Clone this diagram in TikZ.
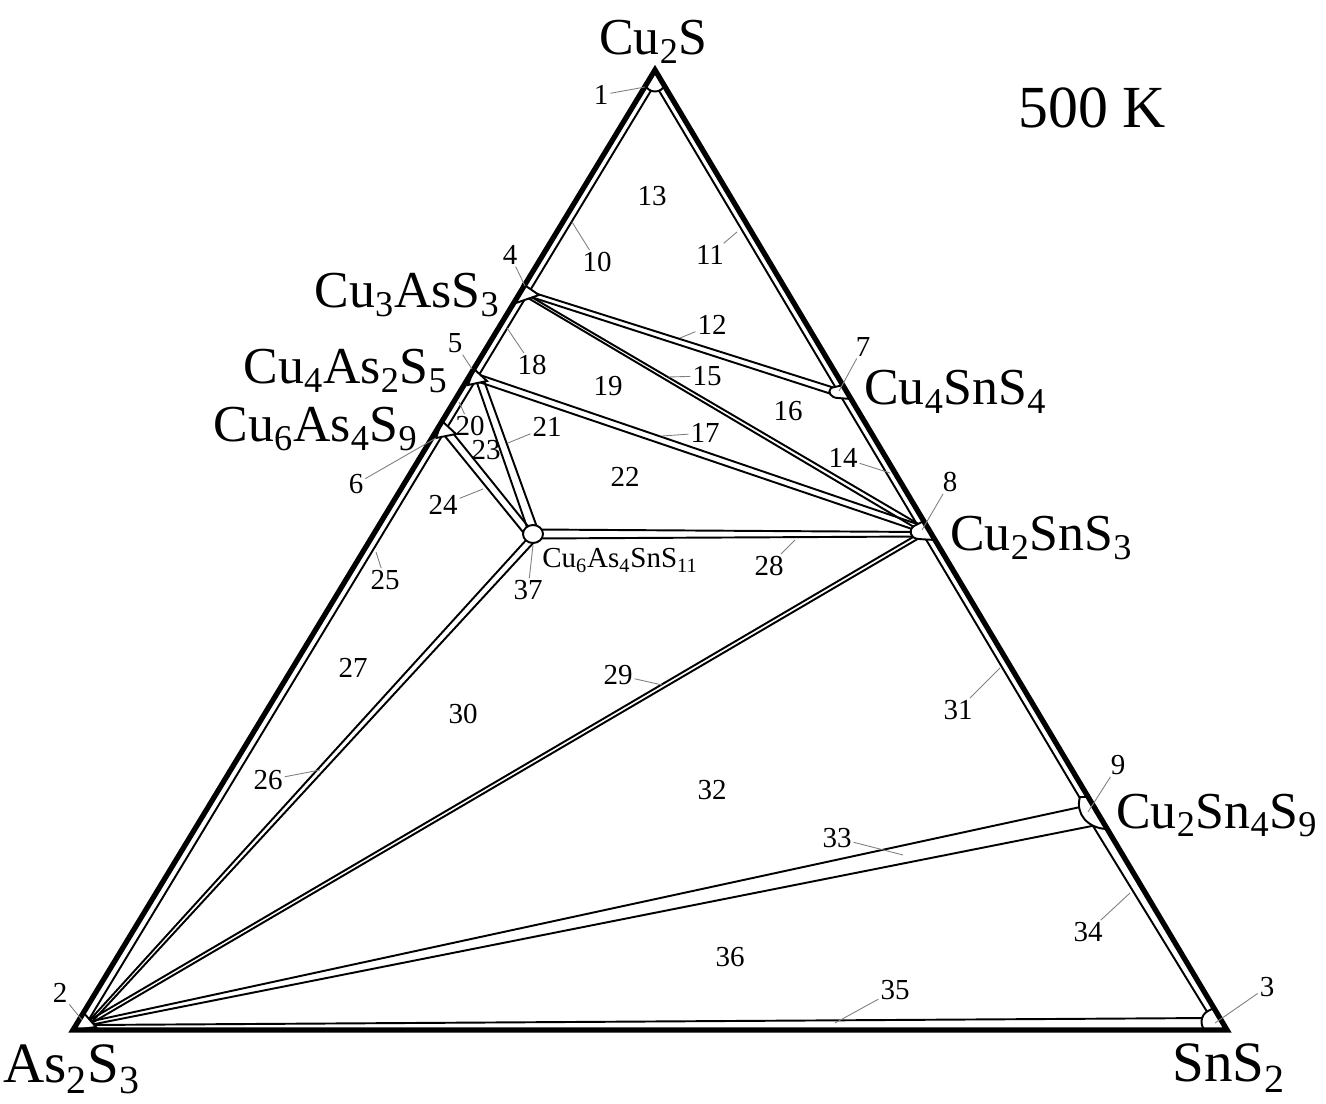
\documentclass[tikz,border=0pt]{standalone}
\usepackage{fontspec}
\setmainfont{Liberation Serif}
\tikzset{
  edge/.style={line width=3pt, line join=miter},
  strip/.style={line width=1.1pt},
  phase/.style={line width=1.1pt, fill=white},
  leader/.style={draw=gray, line width=0.5pt},
  num/.style={font=\fontsize{16.5}{18}\selectfont, inner sep=1pt},
  comp/.style={font=\fontsize{29.5}{34}\selectfont, inner sep=0pt},
  bigcomp/.style={font=\fontsize{32.5}{38}\selectfont, inner sep=0pt},
}
\begin{document}
\begin{tikzpicture}[x=0.02cm, y=-0.02cm]
\useasboundingbox (0,0) rectangle (1326,1104);
\fill[white] (0,0) rectangle (1326,1104);

% inner boundaries of the edge strips
\draw[strip] (655,84) -- (88,1021);
\draw[strip] (655,84) -- (1081,800) -- (1093,826) -- (1209,1015);
\draw[strip] (90,1025) -- (1210,1018);

% tie-line strips
\draw[strip] (528,291) -- (838,389);
\draw[strip] (528,296) -- (836,395.5);
\draw[strip] (528,295) -- (921,525.5);
\draw[strip] (528,298) -- (919,530);
\draw[strip] (480,375) -- (920,525);
\draw[strip] (479,382) -- (918,531);
\draw[strip] (476,380) -- (529,533);
\draw[strip] (483,378) -- (538,530);
\draw[strip] (450.4,430) -- (531,530);
\draw[strip] (444,435) -- (527,537);
\draw[strip] (535,529.5) -- (922,532);
\draw[strip] (535,538.5) -- (922,536.5);
\draw[strip] (528,538) -- (88,1022);
\draw[strip] (536,540) -- (90,1024);
\draw[strip] (920,533) -- (88,1021);
\draw[strip] (921,537) -- (90,1024);
\draw[strip] (1085,806) -- (88,1022);
\draw[strip] (1097,825) -- (90,1025);

% single-phase regions at the compositions
\draw[phase] (645.5,84) .. controls (647,94) and (663,94) .. (664.5,84) -- (655,70) -- cycle;
\draw[phase] (83,1012) -- (96,1027) -- (75,1030) -- cycle;
\draw[phase] (1208,1011) .. controls (1200,1015) and (1200,1026) .. (1205,1030) -- (1226,1030) -- (1214,1008) -- cycle;
\draw[phase] (523,284) -- (539,295) -- (516,303) -- cycle;
\draw[phase] (474,369) -- (487,381) -- (468,385) -- cycle;
\draw[phase] (442,421) -- (456,434) -- (436,438) -- cycle;
\draw[phase] (843,385) -- (831,388) .. controls (827,392) and (831,398) .. (838,398) -- (851,399) -- cycle;
\draw[phase] (924,521) -- (914,526) .. controls (908,530) and (910,538) .. (918,539) -- (935,540) -- cycle;
\draw[phase] (1080,797) .. controls (1075,814) and (1088,828) .. (1106,829) -- (1089,797) -- cycle;
\draw[phase] (533,534) ellipse [x radius=10, y radius=9];

% outer triangle
\draw[edge] (655,70) -- (1227,1030) -- (73,1030) -- cycle;

% compounds
\node[comp, anchor=base west] (cu2s) at (599,55) {Cu\textsubscript{2}S};
\node[comp, anchor=base west, font=\fontsize{34}{40}\selectfont] (temp) at (1018,128) {500 K};
\node[comp, anchor=base east] (cu3ass3) at (500,308) {Cu\textsubscript{3}AsS\textsubscript{3}};
\node[comp, anchor=base east] (cu4as2s5) at (448,384) {Cu\textsubscript{4}As\textsubscript{2}S\textsubscript{5}};
\node[comp, anchor=base east] (cu6as4s9) at (418,442) {Cu\textsubscript{6}As\textsubscript{4}S\textsubscript{9}};
\node[comp, anchor=base west] (cu4sns4) at (864,405) {Cu\textsubscript{4}SnS\textsubscript{4}};
\node[comp, anchor=base west] (cu2sns3) at (950,551) {Cu\textsubscript{2}SnS\textsubscript{3}};
\node[comp, anchor=base west] (cu2sn4s9) at (1116,828) {Cu\textsubscript{2}Sn\textsubscript{4}S\textsubscript{9}};
\node[bigcomp, anchor=base west] (as2s3) at (3,1082) {As\textsubscript{2}S\textsubscript{3}};
\node[bigcomp, anchor=base west] (sns2) at (1172,1081) {SnS\textsubscript{2}};
\node[num, anchor=base west, inner sep=0pt] (quat) at (542,568) {Cu\textsubscript{6}As\textsubscript{4}SnS\textsubscript{11}};

% field numbers
\node[num] (n1) at (601,95) {1};
\node[num] (n2) at (60,993) {2};
\node[num] (n3) at (1267,987) {3};
\node[num] (n4) at (510,255) {4};
\node[num] (n5) at (455,343) {5};
\node[num] (n6) at (356,484) {6};
\node[num] (n7) at (863,347) {7};
\node[num] (n8) at (950,482) {8};
\node[num] (n9) at (1118,765) {9};
\node[num] (n10) at (597,262) {10};
\node[num] (n11) at (710,255) {11};
\node[num] (n12) at (712,325) {12};
\node[num] (n13) at (652,196) {13};
\node[num] (n14) at (843,458) {14};
\node[num] (n15) at (707,376) {15};
\node[num] (n16) at (788,411) {16};
\node[num] (n17) at (705,433) {17};
\node[num] (n18) at (532,365) {18};
\node[num] (n19) at (608,386) {19};
\node[num] (n20) at (470,426) {20};
\node[num] (n21) at (547,427) {21};
\node[num] (n22) at (625,477) {22};
\node[num] (n23) at (486,450) {23};
\node[num] (n24) at (443,505) {24};
\node[num] (n25) at (385,580) {25};
\node[num] (n26) at (268,780) {26};
\node[num] (n27) at (353,668) {27};
\node[num] (n28) at (769,566) {28};
\node[num] (n29) at (618,675) {29};
\node[num] (n30) at (463,714) {30};
\node[num] (n31) at (958,710) {31};
\node[num] (n32) at (712,790) {32};
\node[num] (n33) at (837,838) {33};
\node[num] (n34) at (1088,932) {34};
\node[num] (n35) at (895,990) {35};
\node[num] (n36) at (730,957) {36};
\node[num] (n37) at (528,590) {37};

% leader ends
\coordinate (l1) at (645,87);
\coordinate (l2) at (82,1020);
\coordinate (l3) at (1215,1023);
\coordinate (l4) at (525,286);
\coordinate (l5) at (472,369);
\coordinate (l6) at (436,438);
\coordinate (l7) at (839,391);
\coordinate (l8) at (922,530);
\coordinate (l9) at (1088,812);
\coordinate (l10) at (572,222);
\coordinate (l11) at (737,232);
\coordinate (l12) at (680,338);
\coordinate (l14) at (890,473);
\coordinate (l15) at (668,377);
\coordinate (l17) at (662,436);
\coordinate (l18) at (507,328);
\coordinate (l20) at (459,402);
\coordinate (l21) at (508,443);
\coordinate (l24) at (483,489);
\coordinate (l25) at (376,552);
\coordinate (l26) at (320,770);
\coordinate (l28) at (795,540);
\coordinate (l29) at (662,685);
\coordinate (l31) at (1000,668);
\coordinate (l33) at (903,855);
\coordinate (l34) at (1130,893);
\coordinate (l35) at (835,1023);
\coordinate (l37) at (533,545);

\foreach \k in {1,2,3,4,5,6,7,8,9,10,11,12,14,15,17,18,20,21,24,25,26,28,29,31,33,34,35,37}
  \draw[leader] (n\k) -- (l\k);
\end{tikzpicture}
\end{document}
